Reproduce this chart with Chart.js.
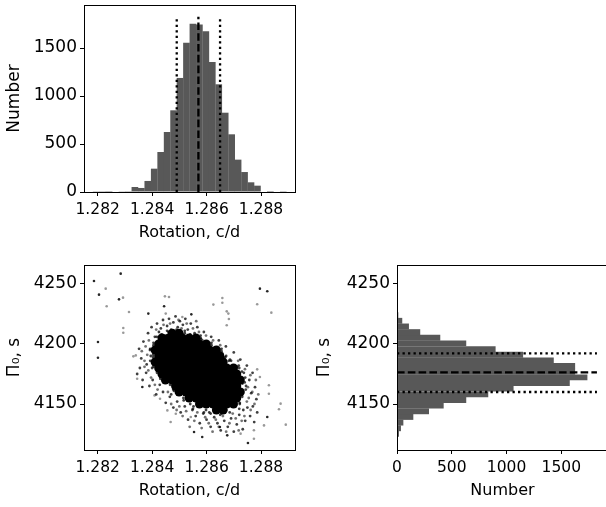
<!DOCTYPE html>
<html>
<head>
<meta charset="utf-8">
<script src="https://cdn.jsdelivr.net/npm/chart.js@4"></script>
<style>
html, body { margin:0; padding:0; background:#fff; overflow:hidden; width:606px; height:507px; }
canvas { position:absolute; }
#histRotacion { left:0; top:0; }
#dispersion { left:0; top:250px; }
#histPeriodo { left:300px; top:250px; }
</style>
</head>
<body>
<canvas id="histRotacion" width="300" height="250"></canvas>
<canvas id="dispersion" width="300" height="257"></canvas>
<canvas id="histPeriodo" width="310" height="257"></canvas>
<script>
// ticks
const ticksRotacion = [1.282, 1.284, 1.286, 1.288]
const ticksConteo = [0, 500, 1000, 1500]
const ticksPeriodo = [4150, 4200, 4250]

// histograma de rotacion (30 bins)
const centrosRotacion = [1.281945, 1.282182, 1.282419, 1.282656, 1.282893, 1.283130, 1.283367, 1.283604, 1.283841, 1.284078,
  1.284315, 1.284552, 1.284789, 1.285025, 1.285262, 1.285499, 1.285736, 1.285973, 1.286210, 1.286447,
  1.286684, 1.286921, 1.287158, 1.287395, 1.287632, 1.287869, 1.288106, 1.288343, 1.288580, 1.288817]
const conteoRotacion = [8, 2, 1, 0, 3, 2, 52, 42, 115, 243,
  417, 625, 851, 1188, 1556, 1753, 1745, 1674, 1354, 1122,
  826, 601, 337, 208, 101, 66, 0, 10, 0, 2]

// histograma del periodo (30 bins)
const centrosPeriodo = [4120.40, 4125.11, 4129.82, 4134.53, 4139.24, 4143.95, 4148.66, 4153.37, 4158.08, 4162.79,
  4167.50, 4172.21, 4176.92, 4181.63, 4186.34, 4191.05, 4195.76, 4200.47, 4205.18, 4209.89,
  4214.60, 4219.31, 4224.02, 4228.73, 4233.44, 4238.15, 4242.86, 4247.57, 4252.28, 4256.99]
const conteoPeriodo = [2, 18, 36, 58, 149, 292, 426, 632, 833, 1064,
  1577, 1738, 1626, 1626, 1431, 1151, 900, 632, 395, 212,
  109, 48, 12, 4, 3, 4, 2, 1, 1, 1]

// percentiles 16, 50, 84
const percRotacion = [1.284904, 1.285700, 1.286496]
const percPeriodo = [4160.0, 4176.4, 4192.2]

// nube densa (zona negra)
const puntosNucleo = [
  [1.28636,4145],[1.28661,4145],
  [1.28574,4150],[1.28599,4150],[1.28624,4150],[1.28649,4150],[1.28674,4150],[1.28699,4150],
  [1.28536,4155],[1.28561,4155],[1.28586,4155],[1.28611,4155],[1.28636,4155],[1.28661,4155],[1.28686,4155],[1.28711,4155],
  [1.28499,4160],[1.28524,4160],[1.28549,4160],[1.28574,4160],[1.28599,4160],[1.28624,4160],[1.28649,4160],[1.28674,4160],[1.28699,4160],[1.28724,4160],
  [1.28486,4165],[1.28511,4165],[1.28536,4165],[1.28561,4165],[1.28586,4165],[1.28611,4165],[1.28636,4165],[1.28661,4165],[1.28686,4165],[1.28711,4165],
  [1.28449,4170],[1.28474,4170],[1.28499,4170],[1.28524,4170],[1.28549,4170],[1.28574,4170],[1.28599,4170],[1.28624,4170],[1.28649,4170],[1.28674,4170],[1.28699,4170],[1.28724,4170],
  [1.28436,4175],[1.28461,4175],[1.28486,4175],[1.28511,4175],[1.28536,4175],[1.28561,4175],[1.28586,4175],[1.28611,4175],[1.28636,4175],[1.28661,4175],[1.28686,4175],[1.28711,4175],
  [1.28424,4180],[1.28449,4180],[1.28474,4180],[1.28499,4180],[1.28524,4180],[1.28549,4180],[1.28574,4180],[1.28599,4180],[1.28624,4180],[1.28649,4180],[1.28674,4180],[1.28699,4180],
  [1.28411,4185],[1.28436,4185],[1.28461,4185],[1.28486,4185],[1.28511,4185],[1.28536,4185],[1.28561,4185],[1.28586,4185],[1.28611,4185],[1.28636,4185],[1.28661,4185],
  [1.28424,4190],[1.28449,4190],[1.28474,4190],[1.28499,4190],[1.28524,4190],[1.28549,4190],[1.28574,4190],[1.28599,4190],[1.28624,4190],[1.28649,4190],
  [1.28411,4195],[1.28436,4195],[1.28461,4195],[1.28486,4195],[1.28511,4195],[1.28536,4195],[1.28561,4195],[1.28586,4195],[1.28611,4195],[1.28636,4195],
  [1.28424,4200],[1.28449,4200],[1.28474,4200],[1.28499,4200],[1.28524,4200],[1.28549,4200],[1.28574,4200],[1.28599,4200],
  [1.28436,4205],[1.28461,4205],[1.28486,4205],[1.28511,4205],[1.28536,4205],[1.28561,4205],
  [1.28474,4209],[1.28499,4209]
]

// borde difuso de la nube
const puntosHalo = [
  [1.28352,4196],[1.28360,4188],[1.28368,4202],[1.28380,4183],[1.28385,4209],[1.28392,4195],[1.28398,4214],[1.28404,4189],
  [1.28410,4206],[1.28418,4217],[1.28425,4210],[1.28432,4213],[1.28440,4220],[1.28447,4207],[1.28455,4215],[1.28462,4221],
  [1.28470,4212],[1.28478,4218],[1.28486,4223],[1.28494,4214],[1.28502,4219],[1.28513,4216],[1.28522,4221],[1.28531,4212],
  [1.28542,4217],[1.28556,4209],[1.28566,4214],[1.28578,4205],[1.28590,4210],[1.28604,4201],[1.28617,4206],[1.28630,4197],
  [1.28645,4203],[1.28658,4192],[1.28671,4198],[1.28686,4187],[1.28700,4193],[1.28712,4181],[1.28724,4187],[1.28737,4176],
  [1.28748,4182],[1.28757,4170],[1.28769,4176],[1.28778,4164],[1.28764,4159],[1.28783,4154],[1.28770,4148],[1.28786,4143],
  [1.28760,4140],[1.28775,4135],[1.28750,4147],[1.28742,4136],[1.28733,4129],[1.28720,4141],[1.28711,4133],[1.28700,4127],
  [1.28690,4138],[1.28678,4131],[1.28665,4136],[1.28652,4128],[1.28640,4134],[1.28628,4139],[1.28615,4131],[1.28600,4137],
  [1.28588,4142],[1.28575,4134],[1.28560,4140],[1.28548,4145],[1.28532,4137],[1.28520,4148],[1.28505,4143],[1.28492,4152],
  [1.28478,4147],[1.28465,4156],[1.28450,4151],[1.28440,4160],[1.28428,4166],[1.28415,4158],[1.28402,4170],[1.28390,4165],
  [1.28378,4176],[1.28365,4170],[1.28355,4180],[1.28345,4175],
  [1.28420,4192],[1.28432,4178],[1.28405,4199],[1.28455,4170],[1.28468,4204],[1.28478,4162],[1.28520,4211],[1.28515,4155],
  [1.28578,4207],[1.28540,4150],[1.28618,4201],[1.28598,4145],[1.28672,4190],[1.28655,4142],[1.28740,4168],[1.28730,4160],
  [1.28722,4150],[1.28745,4165],[1.28720,4180],[1.28735,4145],[1.28400,4180],[1.28460,4210],[1.28655,4196],[1.28690,4186],
  [1.28672,4145],[1.28610,4143],[1.28470,4158],[1.28440,4172],[1.28570,4148],
  [1.28552,4148],[1.28722,4151],[1.28516,4153],[1.28731,4156],[1.28480,4161],[1.28744,4162],[1.28466,4166],[1.28732,4167],
  [1.28430,4171],[1.28742,4172],[1.28418,4176],[1.28730,4177],[1.28405,4181],[1.28718,4182],[1.28393,4186],[1.28682,4186],
  [1.28404,4191],[1.28668,4189],[1.28393,4196],[1.28655,4194],[1.28405,4201],[1.28618,4199],[1.28417,4206],[1.28580,4204],
  [1.28455,4211],[1.28520,4209],[1.28615,4142],[1.28685,4143],[1.28550,4146],[1.28720,4146],[1.28590,4143],[1.28650,4141],
  [1.28490,4212],[1.28540,4208],[1.28435,4208],[1.28395,4190]
]

// borde exterior, puntos grises
const puntosHaloClaro = [
  [1.28415,4212],[1.28428,4204],[1.28442,4216],[1.28452,4203],[1.28466,4217],[1.28480,4207],[1.28497,4220],[1.28508,4213],
  [1.28527,4217],[1.28537,4207],[1.28550,4213],[1.28562,4219],[1.28572,4210],[1.28585,4203],[1.28598,4207],[1.28610,4197],
  [1.28624,4203],[1.28638,4193],[1.28650,4199],[1.28665,4188],
  [1.28362,4194],[1.28372,4186],[1.28376,4198],[1.28386,4178],[1.28388,4203],[1.28396,4172],[1.28410,4166],[1.28420,4162],
  [1.28372,4181],[1.28382,4191],
  [1.28706,4176],[1.28716,4186],[1.28728,4171],[1.28741,4179],[1.28752,4164],[1.28761,4174],[1.28755,4155],[1.28768,4160],
  [1.28776,4150],[1.28762,4145],[1.28748,4152],[1.28781,4170],[1.28790,4158],[1.28739,4140],
  [1.28500,4148],[1.28512,4140],[1.28525,4144],[1.28538,4131],[1.28555,4136],[1.28566,4143],[1.28582,4130],[1.28595,4139],
  [1.28608,4134],[1.28622,4127],[1.28634,4137],[1.28645,4131],[1.28660,4140],[1.28672,4127],[1.28684,4134],[1.28696,4142],
  [1.28707,4138],[1.28718,4128],[1.28729,4136],[1.28490,4145],[1.28470,4150],[1.28458,4160]
]

// puntos sueltos
const puntosOscuros = [
  [1.281864,4252.5],[1.282048,4241.1],[1.28201,4201.7],[1.28201,4188.6],[1.28796,4246.1],[1.28823,4243.9],
  [1.282845,4258.6],[1.282783,4237.2],[1.28364,4164.2],[1.28823,4139.2],[1.28554,4126.7],[1.28584,4122.5],
  [1.28752,4117.5],[1.28444,4231.4],[1.28544,4224.7],[1.28386,4225.3],[1.28649,4130.8],[1.28676,4123.9]
]
const puntosClaros = [
  [1.282294,4246.1],[1.28233,4231.4],[1.28293,4238.6],[1.28315,4226.7],[1.28294,4213.3],[1.28294,4209.4],
  [1.28331,4189.7],[1.2834,4190.5],[1.28447,4239.7],[1.28462,4239.2],[1.2845,4225.3],[1.28511,4222.5],
  [1.28625,4232.8],[1.28658,4238.3],[1.28658,4234.4],[1.28674,4227.2],[1.2868,4225.3],[1.28682,4220.8],
  [1.28786,4233.1],[1.28838,4226.1],[1.28674,4215.6],[1.28891,4132.8],[1.28872,4150.3],[1.28866,4145.6],
  [1.28829,4165.6],[1.28829,4158.6],[1.28811,4132.2],[1.28786,4178.9],[1.28796,4172.5],[1.28774,4128.1],
  [1.28774,4121.1],[1.28725,4125.3],[1.28345,4171.1],[1.28409,4157.2],[1.28429,4154.4],[1.28456,4144.7],
  [1.28487,4141.9],[1.28468,4135],[1.28542,4139.2]
]

// limites de ejes
const limRotacion = [1.281497, 1.289249]
const limPeriodo = [4111.7, 4265.8]
const maxConteoV = 1948
const maxConteoH = 1926
const largoLineas = 1825

Chart.defaults.font.family = 'DejaVu Sans'
Chart.defaults.font.size = 17
Chart.defaults.color = '#000'
Chart.defaults.animation = false
Chart.defaults.events = []
Chart.defaults.devicePixelRatio = 1
Chart.defaults.plugins.legend.display = false
Chart.defaults.plugins.tooltip.enabled = false

const grisBarra = '#585858'
const sinComas = v => String(v)

// marco completo alrededor del area del grafico
const marco = {
  id: 'marco',
  afterDraw(chart) {
    const {ctx, chartArea: a} = chart
    ctx.save()
    ctx.strokeStyle = '#000'
    ctx.lineWidth = 1
    ctx.strokeRect(a.left + 0.5, a.top + 0.5, a.right - a.left, a.bottom - a.top)
    ctx.restore()
  }
}

const ejeX = (min, max, ticks, titulo, alto, padTitulo, fmt) => ({
  type: 'linear', min, max, offset: false,
  afterBuildTicks: s => { s.ticks = ticks.map(v => ({value: v})) },
  afterFit: s => { s.height = alto; s.paddingLeft = 0; s.paddingRight = 0 },
  ticks: { padding: 5, autoSkip: false, maxRotation: 0, callback: fmt, font: { size: 15.5 } },
  grid: { drawOnChartArea: false, tickLength: 4, color: '#000', offset: false },
  border: { display: false },
  title: { display: true, text: titulo, font: { size: 16 }, padding: { top: 0, bottom: padTitulo } }
})

const ejeY = (min, max, ticks, titulo, ancho, padTitulo) => ({
  type: 'linear', min, max, offset: false,
  afterBuildTicks: s => { s.ticks = ticks.map(v => ({value: v})) },
  afterFit: s => { s.width = ancho; s.paddingTop = 0; s.paddingBottom = 0 },
  ticks: { padding: 3, autoSkip: false, callback: sinComas },
  grid: { drawOnChartArea: false, tickLength: 4, color: '#000', offset: false },
  border: { display: false },
  title: { display: true, text: titulo, padding: { top: padTitulo, bottom: 0 } }
})

const grosorLinea = 2.3
const lineaV = (x, dash) => ({
  type: 'line', order: 1, data: [{x, y: 0}, {x, y: largoLineas}],
  borderColor: '#000', borderWidth: grosorLinea, borderDash: dash, borderCapStyle: 'butt', pointRadius: 0
})
const lineaH = (y, dash) => ({
  type: 'line', order: 1, indexAxis: 'x', data: [{x: 0, y}, {x: largoLineas, y}],
  borderColor: '#000', borderWidth: grosorLinea, borderDash: dash, borderCapStyle: 'butt', pointRadius: 0
})
const punteado = [2.3, 3.2]
const rayado = [7.6, 3.2]

// histograma superior
new Chart(document.getElementById('histRotacion'), {
  type: 'bar',
  data: {
    datasets: [
      lineaV(percRotacion[0], punteado),
      lineaV(percRotacion[1], rayado),
      lineaV(percRotacion[2], punteado),
      {
        type: 'bar', order: 2,
        data: centrosRotacion.map((c, i) => ({x: c, y: conteoRotacion[i]})),
        backgroundColor: grisBarra, borderWidth: 0, barPercentage: 1.04, categoryPercentage: 1
      }
    ]
  },
  options: {
    responsive: false,
    layout: { padding: { top: 5, right: 5, left: 0, bottom: 0 } },
    scales: {
      x: ejeX(limRotacion[0], limRotacion[1], ticksRotacion, 'Rotation, c/d', 58, 7.4, v => v.toFixed(3)),
      y: ejeY(0, maxConteoV, ticksConteo, 'Number', 84, 4.3)
    }
  },
  plugins: [marco]
})

// dispersion
const aPuntos = arr => arr.map(p => ({x: p[0], y: p[1]}))
new Chart(document.getElementById('dispersion'), {
  type: 'scatter',
  data: {
    datasets: [
      { data: aPuntos(puntosOscuros), pointRadius: 1.3, backgroundColor: 'rgba(0,0,0,0.85)', borderWidth: 0 },
      { data: aPuntos(puntosClaros), pointRadius: 1.3, backgroundColor: 'rgba(0,0,0,0.4)', borderWidth: 0 },
      { data: aPuntos(puntosHaloClaro), pointRadius: 1.4, backgroundColor: 'rgba(0,0,0,0.55)', borderWidth: 0 },
      { data: aPuntos(puntosHalo), pointRadius: 1.4, backgroundColor: 'rgba(0,0,0,0.75)', borderWidth: 0 },
      { data: aPuntos(puntosNucleo), pointRadius: 4.5, backgroundColor: '#000', borderWidth: 0 }
    ]
  },
  options: {
    responsive: false,
    layout: { padding: { top: 15, right: 5, left: 0, bottom: 0 } },
    scales: {
      x: ejeX(limRotacion[0], limRotacion[1], ticksRotacion, 'Rotation, c/d', 57, 6.4, v => v.toFixed(3)),
      y: ejeY(limPeriodo[0], limPeriodo[1], ticksPeriodo, 'Π₀, s', 84, 4.3)
    }
  },
  plugins: [marco]
})

// histograma lateral
new Chart(document.getElementById('histPeriodo'), {
  type: 'bar',
  data: {
    datasets: [
      lineaH(percPeriodo[0], punteado),
      lineaH(percPeriodo[1], rayado),
      lineaH(percPeriodo[2], punteado),
      {
        type: 'bar', order: 2,
        data: centrosPeriodo.map((c, i) => ({x: conteoPeriodo[i], y: c})),
        backgroundColor: grisBarra, borderWidth: 0, barPercentage: 1.04, categoryPercentage: 1
      }
    ]
  },
  options: {
    responsive: false,
    indexAxis: 'y',
    layout: { padding: { top: 15, right: 2, left: 0, bottom: 0 } },
    scales: {
      x: ejeX(0, maxConteoH, ticksConteo, 'Number', 57, 6.4, sinComas),
      y: ejeY(limPeriodo[0], limPeriodo[1], ticksPeriodo, 'Π₀, s', 97, 14.8)
    }
  },
  plugins: [marco]
})
</script>
</body>
</html>
